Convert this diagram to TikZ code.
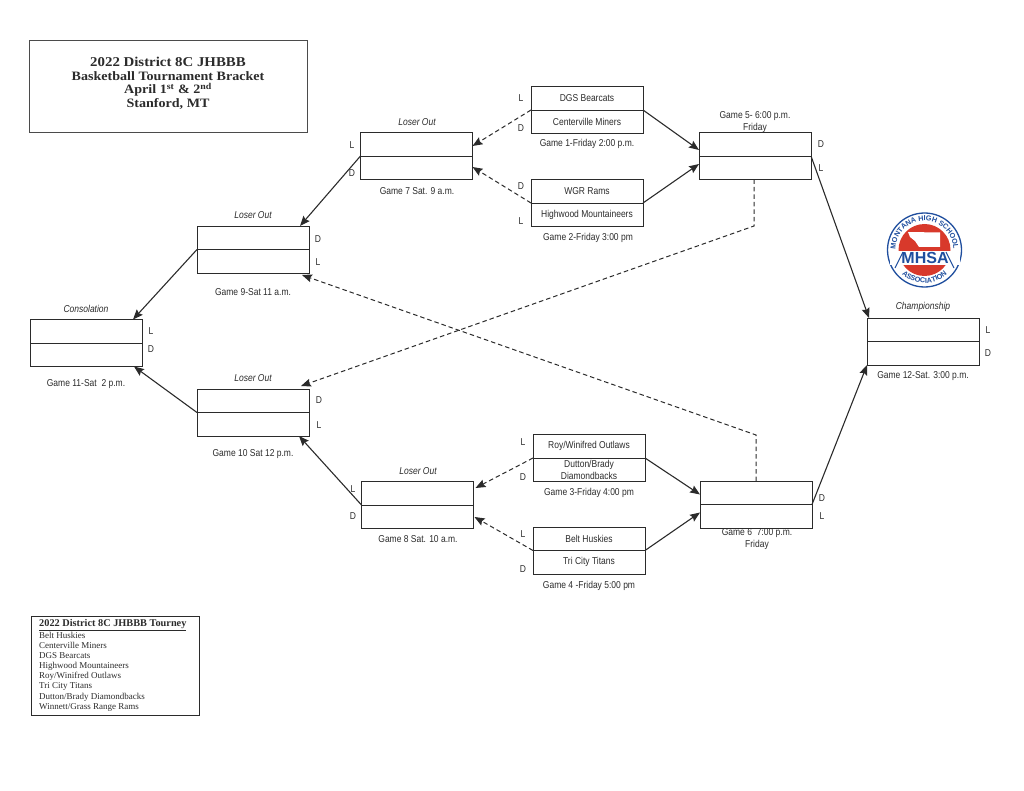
\documentclass[tikz,border=0pt]{standalone}
\usepackage{fontspec}
\setmainfont[FakeStretch=0.85]{Liberation Sans}
\newfontfamily\headfont[FakeStretch=1.1]{Liberation Serif}
\newfontfamily\listfont{Liberation Serif}
\newfontfamily\logofont{Liberation Sans}
\usetikzlibrary{arrows.meta,calc,decorations.text}
\definecolor{inkgray}{HTML}{2B2B2B}
\definecolor{logoblue}{HTML}{1F4E9E}
\definecolor{logored}{HTML}{D8392B}
\tikzset{
  teambox/.style={draw=inkgray,line width=0.8pt,outer sep=0pt,minimum width=112pt,minimum height=23.5pt,inner sep=0pt,align=center,text=inkgray,font=\fontsize{10}{12}\selectfont},
  caption/.style={text=inkgray,align=center,inner sep=0pt,font=\fontsize{10}{12}\selectfont},
  roundname/.style={text=inkgray,inner sep=0pt,font=\fontsize{10}{12}\selectfont\itshape},
  mark letter/.style={text=inkgray,inner sep=0pt,font=\fontsize{10}{12}\selectfont},
  headline/.style={text=inkgray,inner sep=0pt,font=\headfont\bfseries\fontsize{12.8}{14}\selectfont},
  winline/.style={draw=inkgray,line width=1.1pt,-{Stealth[length=10pt,width=8pt,inset=1.5pt]}},
  loseline/.style={draw=inkgray,line width=1pt,dash pattern=on 4.5pt off 3pt,-{Stealth[length=10pt,width=8pt,inset=1.5pt]}},
}
% one game: name, x, y of the middle line, upper team, lower team
\newcommand{\gamebox}[5]{
  \node[teambox,anchor=south] (#1t) at (#2,#3) {#4};
  \node[teambox,anchor=north] (#1b) at (#2,#3) {#5};
}
\begin{document}
\begin{tikzpicture}[x=1pt,y=-1pt]
\useasboundingbox (0,0) rectangle (1024,791);

% title and team list
\node[draw=inkgray!85,line width=1pt,outer sep=0pt,minimum width=278pt,minimum height=92pt,inner sep=0pt] (titlebox) at (168,87) {};
\node[headline,font=\headfont\bfseries\fontsize{13.5}{15}\selectfont] (titleone) at (168,62) {2022 District 8C JHBBB};
\node[headline] (titletwo) at (168,76.5) {Basketball Tournament Bracket};
\node[headline] (titlethree) at (168,90) {April 1\textsuperscript{st} \& 2\textsuperscript{nd}};
\node[headline] (titlefour) at (168,104) {Stanford, MT};
\node[draw=inkgray,line width=0.8pt,outer sep=0pt,anchor=north west,minimum width=168pt,minimum height=99pt,inner sep=0pt] (listbox) at (31,616) {};
\node[anchor=west,inner sep=0pt,text=inkgray,font=\listfont\bfseries\fontsize{10.3}{12}\selectfont] (listhead) at (39,625) {\underline{2022 District 8C JHBBB Tourney}};
\node[anchor=north west,align=left,inner sep=0pt,text=inkgray,font=\listfont\fontsize{9}{10.1}\selectfont] (listtext) at (39,632) {Belt Huskies\\Centerville Miners\\DGS Bearcats\\Highwood Mountaineers\\Roy/Winifred Outlaws\\Tri City Titans\\Dutton/Brady Diamondbacks\\Winnett/Grass Range Rams};

% games
\gamebox{gone}{587}{110}{DGS Bearcats}{Centerville Miners}
\gamebox{gtwo}{587}{203}{WGR Rams}{Highwood Mountaineers}
\gamebox{gthree}{589}{458}{Roy/Winifred Outlaws}{Dutton/Brady\\Diamondbacks}
\gamebox{gfour}{589}{550.5}{Belt Huskies}{Tri City Titans}
\gamebox{gfive}{755}{156}{}{}
\gamebox{gsix}{756}{504.5}{}{}
\gamebox{gseven}{416.5}{156}{}{}
\gamebox{geight}{417.5}{505}{}{}
\gamebox{gnine}{253}{249.5}{}{}
\gamebox{gten}{253}{412.5}{}{}
\gamebox{geleven}{86}{343}{}{}
\gamebox{gtwelve}{923}{341.5}{}{}

% captions
\node[caption] (capone) at (587,144) {Game 1-Friday 2:00 p.m.};
\node[caption] (captwo) at (588,238) {Game 2-Friday 3:00 pm};
\node[caption] (capthree) at (589,493) {Game 3-Friday 4:00 pm};
\node[caption] (capfour) at (589,586) {Game 4 -Friday 5:00 pm};
\node[caption] (capfive) at (755,122) {Game 5- 6:00 p.m.\\Friday};
\node[caption] (capsix) at (757,539.5) {Game 6\ \ 7:00 p.m.\\Friday};
\node[caption] (capseven) at (417,191) {Game 7 Sat. 9 a.m.};
\node[caption] (capeight) at (418,539) {Game 8 Sat. 10 a.m.};
\node[caption] (capnine) at (253,292) {Game 9-Sat 11 a.m.};
\node[caption] (capten) at (253,454) {Game 10 Sat 12 p.m.};
\node[caption] (capeleven) at (86,384) {Game 11-Sat\ \ 2 p.m.};
\node[caption] (captwelve) at (923,376) {Game 12-Sat. 3:00 p.m.};

% round names
\node[roundname] (outseven) at (417,122) {Loser Out};
\node[roundname] (outeight) at (418,471) {Loser Out};
\node[roundname] (outnine) at (253,215) {Loser Out};
\node[roundname] (outten) at (253,378) {Loser Out};
\node[roundname] (consol) at (86,309) {Consolation};
\node[roundname] (champ) at (923,307) {Championship};

% L and D beside the boxes
\foreach \nm/\px/\py/\ch in {a/521/98/L,b/521/128/D,c/521/186/D,d/521/221/L,e/523/442/L,f/523/477/D,g/523/534/L,h/523/569/D,i/821/144/D,j/821/168/L,k/822/498/D,l/822/516/L,m/352/145/L,n/352/173/D,o/353/489/L,p/353/516/D,q/318/239/D,r/318/262/L,s/319/400/D,t/319/425/L,u/151/331/L,v/151/349/D,w/988/330/L,x/988/353/D}
  \node[mark letter] (mk\nm) at (\px,\py) {\ch};

% winners
\draw[winline] (gonet.south east) -- ([yshift=6pt]gfivet.south west);
\draw[winline] (gtwot.south east) -- ([yshift=-8pt]gfiveb.north west);
\draw[winline] (gthreet.south east) -- ([yshift=10pt]gsixt.south west);
\draw[winline] (gfourt.south east) -- ([yshift=-8pt]gsixb.north west);
\draw[winline] (gfivet.south east) -- ([xshift=2pt]gtwelvet.north west);
\draw[winline] (gsixt.south east) -- (gtwelveb.south west);
\draw[winline] (gsevent.south west) -- ([xshift=-9pt]gninet.north east);
\draw[winline] (geightt.south west) -- ([xshift=-10pt]gtenb.south east);
\draw[winline] (gninet.south west) -- ([xshift=-9pt]gelevent.north east);
\draw[winline] (gtent.south west) -- ([xshift=-8pt]gelevenb.south east);

% losers
\draw[loseline] (gonet.south west) -- ([yshift=10pt]gsevent.south east);
\draw[loseline] (gtwot.south west) -- ([yshift=-11pt]gsevenb.north east);
\draw[loseline] (gthreet.south west) -- ([shift={(2pt,17pt)}]geightt.south east);
\draw[loseline] (gfourt.south west) -- ([shift={(1pt,-12pt)}]geightb.north east);
\coordinate (bendfive) at (754,226);
\coordinate (bendsix) at (756,435);
\draw[loseline] (gfiveb.south -| bendfive) -- (bendfive) -- ([shift={(-8pt,3pt)}]gtent.north east);
\draw[loseline] (gsixt.north -| bendsix) -- (bendsix) -- ([shift={(-7pt,-2pt)}]gnineb.south east);

% association badge
\coordinate (badge) at (924.5,250);
\draw[logoblue,line width=1.3pt,fill=white] (badge) circle[radius=37pt];
\fill[logored] (badge) circle[radius=26pt];
\fill[white] (890,251) rectangle (960,265);
\fill[white] (908,232) -- (940,232.5) -- (940,247) -- (919,247) -- (915,241) -- (910,237) -- cycle;
\draw[logoblue,line width=1pt] (895,268) -- (903,252);
\draw[logoblue,line width=1pt] (954,268) -- (946,252);
\node[inner sep=0pt,text=logoblue,font=\logofont\bfseries\fontsize{16}{17}\selectfont] (badgename) at (925,258) {MHSA};
\path[decorate,decoration={text along path,text align=center,text={|\logofont\fontsize{7.2}{8}\selectfont\bfseries\color{logoblue}|MONTANA HIGH SCHOOL}}] ($(badge)+(195:29pt)$) arc[start angle=195,end angle=-15,radius=29pt];
\path[decorate,decoration={text along path,text align=center,text={|\logofont\fontsize{7.2}{8}\selectfont\bfseries\color{logoblue}|ASSOCIATION}}] ($(badge)+(205:33pt)$) arc[start angle=205,end angle=335,radius=33pt];
\end{tikzpicture}
\end{document}
